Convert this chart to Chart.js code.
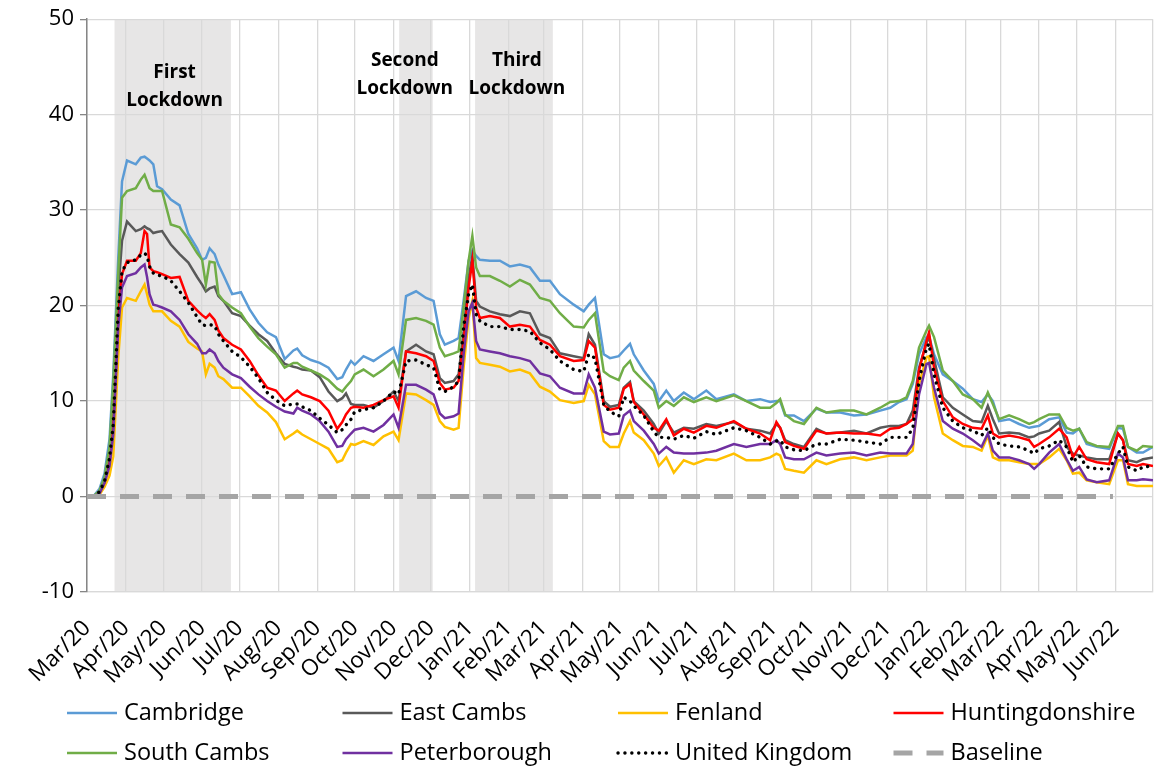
<!DOCTYPE html>
<html>
<head>
<meta charset="utf-8">
<script src="https://cdn.jsdelivr.net/npm/chart.js@4.4.1/dist/chart.umd.min.js"></script>
<style>
  html, body { margin: 0; padding: 0; background: #fff; }
  #chart { display: block; }
</style>
</head>
<body>
<canvas id="chart" width="1171" height="767"></canvas>
<script>
// days since 1 Mar 2020
const days = [
  5, 10, 14, 18, 21, 25, 28, 32, 39, 43, 46, 48, 50, 53, 56, 60, 67, 74, 81, 88, 92, 95, 98, 102, 105, 109,
  116, 123, 130, 137, 144, 151, 158, 165, 168, 172, 179, 186, 193, 200, 204, 207, 211,
  214, 221, 229, 237, 245, 249, 255, 263, 271, 277, 282, 286, 293, 297, 301, 305, 308, 311, 314, 322, 330,
  338, 346, 354, 362, 370, 378, 389, 397, 401, 406, 413, 418, 425,
  429, 434, 437, 445, 453, 457, 463, 469, 477, 485, 495, 503, 517, 527, 538, 546, 551, 554, 558, 565, 573,
  583, 591, 602, 613, 623, 634, 642,
  649, 655, 660, 665, 671, 673, 677, 684, 692, 700, 708, 715, 720, 724, 729, 737, 745, 753, 757, 761, 769,
  777, 783, 788, 793, 799, 807, 817, 824, 828, 832, 839, 844, 852
];

const cambridge = [
  0, 0.8, 2.4, 6, 12.8, 25, 33, 35.2, 34.8, 35.5, 35.6, 35.4, 35.2, 34.8, 32.5, 32.2, 31.1, 30.5, 27.5, 26, 24.8, 25, 26, 25.4, 24.3, 23.2,
  21.2, 21.4, 19.6, 18.2, 17.2, 16.7, 14.4, 15.3, 15.5, 14.8, 14.3, 14, 13.5, 12.3, 12.5, 13.3, 14.2,
  13.8, 14.7, 14.2, 14.9, 15.6, 14.2, 21, 21.5, 20.8, 20.5, 17, 15.9, 16.3, 16.6, 20.5, 24.7, 25.8, 25.2, 24.8, 24.7, 24.7,
  24.1, 24.3, 24, 22.6, 22.6, 21.2, 20.1, 19.4, 20.1, 20.8, 14.9, 14.5, 14.7,
  15.3, 16, 14.9, 13.2, 11.8, 10, 11.1, 10, 10.9, 10.2, 11.1, 10.2, 10.7, 10, 10.2, 9.9, 10, 10, 8.5, 8.5, 7.9,
  9.2, 8.8, 8.8, 8.5, 8.6, 9, 9.3,
  9.9, 10.2, 11.8, 14.9, 16.7, 16.8, 14.9, 12.8, 12.1, 11.3, 10.2, 9.9, 10.7, 10, 7.9, 8.1, 7.6, 7.2, 7.3, 7.4, 8.1,
  8.3, 6.7, 6.6, 7.1, 5.5, 5.2, 5, 7.2, 7.1, 5.2, 4.6, 4.6, 5.2
];

const eastCambs = [
  0, 0.5, 1.8, 4.5, 10, 21.5, 26.8, 28.8, 27.8, 28, 28.3, 28.1, 28, 27.6, 27.7, 27.8, 26.4, 25.4, 24.5, 23, 22.2, 21.5, 21.8, 22, 21, 20.5,
  19.2, 18.9, 17.9, 17, 16.3, 15, 13.9, 13.6, 13.5, 13.3, 13.2, 12.5, 11, 10, 10.3, 10.8, 9.7,
  9.6, 9.6, 9.3, 10, 11, 10, 15.2, 15.9, 15.2, 14.9, 12.4, 11.9, 12.1, 12.8, 17.3, 22.9, 25.2, 20.5, 19.9, 19.4, 19.1,
  18.9, 19.4, 19.2, 17, 16.6, 15, 14.7, 14.5, 17, 15.9, 10, 9.4, 9.6,
  11.4, 12, 10, 9, 7.6, 6.6, 7.9, 6.7, 7.2, 7.1, 7.6, 7.4, 7.8, 7.1, 6.9, 6.6, 7.6, 7.2, 5.9, 5.5, 5.2,
  7.1, 6.6, 6.7, 6.9, 6.6, 7.2, 7.4,
  7.4, 7.6, 9, 13.5, 16.1, 16.7, 14.4, 10.4, 9.3, 8.6, 7.9, 7.8, 9.5, 8.1, 6.6, 6.7, 6.6, 6.2, 6.3, 6.6, 6.9,
  7.8, 5.2, 4.5, 4.3, 4.1, 3.9, 3.9, 6.6, 5.9, 3.8, 3.6, 3.9, 4.1
];

const fenland = [
  0, 0.2, 1, 2.2, 4.2, 14.6, 19.8, 20.8, 20.5, 21.5, 22.2, 21.2, 20.1, 19.4, 19.4, 19.4, 18.4, 17.8, 16.2, 15.5, 15.2, 12.8, 13.9, 13.5, 12.6, 12.3,
  11.4, 11.4, 10.5, 9.5, 8.8, 7.8, 6, 6.6, 6.9, 6.5, 6, 5.5, 5, 3.6, 3.8, 4.6, 5.5,
  5.4, 5.8, 5.4, 6.3, 6.8, 5.9, 10.8, 10.7, 10.1, 9.6, 7.9, 7.3, 7, 7.2, 13.5, 18.7, 20.5, 14.5, 14, 13.8, 13.6,
  13.1, 13.3, 12.9, 11.5, 11, 10.1, 9.8, 10, 11.7, 10.7, 5.8, 5.2, 5.2,
  6.6, 7.9, 6.7, 5.9, 4.5, 3.2, 4.1, 2.5, 3.8, 3.4, 3.9, 3.8, 4.5, 3.8, 3.8, 4.1, 4.5, 4.3, 2.9, 2.7, 2.5,
  3.8, 3.4, 3.9, 4.1, 3.8, 4.1, 4.3,
  4.3, 4.3, 4.8, 11.8, 14.6, 14.7, 10.4, 6.6, 5.9, 5.3, 5.2, 4.8, 6.4, 4.1, 3.8, 3.8, 3.6, 3.4, 3.4, 3.4, 4.1,
  5, 3.8, 2.4, 2.5, 1.7, 1.5, 1.3, 3.8, 3.8, 1.3, 1.1, 1.1, 1.1
];

const huntingdonshire = [
  0, 0.4, 1.5, 3.5, 7.5, 19, 23.3, 24.7, 24.7, 25.5, 27.8, 27.5, 24, 23.6, 23.5, 23.3, 22.9, 23, 20.5, 19.5, 19, 18.7, 19.1, 18.5, 17.4, 16.6,
  15.9, 15.4, 14.2, 12.7, 11.4, 11.1, 10, 10.8, 11.1, 10.7, 10.4, 10, 9, 7.1, 7.8, 8.6, 9.3,
  9.4, 9.3, 9.6, 10.1, 10.5, 9.3, 15.2, 15, 14.7, 14.2, 11.9, 11.2, 11.4, 12.1, 16.3, 21.9, 24.7, 19.8, 18.7, 18.9, 18.7,
  17.8, 18, 17.8, 16.4, 15.9, 14.7, 14.2, 14.3, 16.3, 15.6, 9.6, 9.1, 9.3,
  11.3, 11.8, 9.9, 8.6, 7.2, 6.9, 8.1, 6.4, 7.1, 6.7, 7.4, 7.2, 7.9, 7.1, 6.6, 5.9, 7.8, 7.2, 5.7, 5.3, 5,
  6.9, 6.6, 6.7, 6.6, 6.6, 6.4, 7.1,
  7.2, 7.6, 8.1, 13.2, 16.3, 17.2, 13.5, 10, 8.3, 7.6, 7.2, 7.1, 8.5, 6.6, 6.2, 6.4, 6.2, 5.9, 5.2, 5.5, 6.2,
  7.1, 6.2, 4.1, 5.2, 3.9, 3.6, 3.4, 6.6, 5.9, 3.4, 3.2, 3.4, 3.2
];

const southCambs = [
  0, 0.6, 2, 5.2, 12, 23.5, 31.3, 32, 32.3, 33.2, 33.7, 33, 32.3, 32, 32, 32, 28.5, 28.2, 27, 25.5, 24.8, 22.2, 24.6, 24.5, 21.2, 20.5,
  19.8, 19.2, 17.8, 16.6, 15.7, 14.9, 13.5, 14, 14, 13.6, 13.2, 12.8, 12.2, 11.3, 11, 11.5, 12.1,
  12.8, 13.3, 12.6, 13.3, 14.2, 12.8, 18.5, 18.7, 18.4, 18, 15.6, 14.7, 15, 15.2, 19.8, 24.7, 27.3, 24, 23.1, 23.1, 22.6,
  22, 22.7, 22.2, 20.8, 20.5, 19.2, 17.8, 17.7, 18.5, 19.2, 13.1, 12.6, 12.2,
  13.5, 14.2, 13.2, 12.1, 11.1, 9.3, 10, 9.5, 10.4, 9.9, 10.4, 10, 10.6, 10, 9.3, 9.3, 9.8, 10.2, 8.6, 7.9, 7.6,
  9.3, 8.8, 9, 9, 8.6, 9.3, 9.9,
  10, 10.4, 12.1, 15.6, 17.4, 17.9, 16.7, 13.2, 12.1, 10.7, 10.2, 9.3, 10.9, 9.7, 8.1, 8.5, 8.1, 7.6, 7.8, 8.1, 8.6,
  8.6, 7.2, 6.9, 7.1, 5.7, 5.3, 5.2, 7.4, 7.4, 5.2, 4.8, 5.3, 5.2
];

const peterborough = [
  0, 0.3, 1.4, 3.2, 6.5, 17.7, 21.9, 23.1, 23.4, 24, 24.3, 23, 21.2, 20.1, 20, 19.8, 19.4, 18.5, 17, 16, 15, 15, 15.4, 15, 14.2, 13.5,
  12.8, 12.4, 11.5, 10.7, 10, 9.4, 8.9, 8.7, 9.3, 9, 8.6, 7.9, 6.8, 5.2, 5.3, 6, 6.6,
  7, 7.2, 6.8, 7.5, 8.6, 7.2, 11.7, 11.7, 11.2, 10.7, 8.7, 8.2, 8.4, 8.7, 14.9, 19.4, 20.3, 16.3, 15.4, 15.2, 15,
  14.7, 14.5, 14.2, 12.9, 12.6, 11.4, 10.8, 10.8, 12.8, 11.4, 6.8, 6.5, 6.6,
  8.5, 9, 7.9, 6.9, 5.5, 4.5, 5.2, 4.6, 4.5, 4.5, 4.6, 4.8, 5.5, 5.2, 5.5, 5.5, 5.9, 5.5, 4.1, 3.9, 3.9,
  4.6, 4.3, 4.5, 4.6, 4.3, 4.6, 4.5,
  4.5, 4.5, 5.5, 10.7, 13.9, 14, 11.4, 7.9, 7.1, 6.6, 5.9, 5.2, 6.6, 4.8, 4.1, 4.1, 3.8, 3.4, 2.9, 3.4, 4.6,
  5.5, 3.9, 2.7, 3.1, 1.8, 1.5, 1.7, 4.5, 4.1, 1.7, 1.7, 1.8, 1.7
];

const unitedKingdom = [
  0, 0.5, 1.6, 4, 7.6, 19.8, 23.6, 24.5, 24.8, 25.3, 25.5, 25.2, 24.1, 23.4, 23.2, 23.1, 22.6, 21.5, 20.3, 18.8, 18, 17.9, 18, 17.9, 17, 16.3,
  15.2, 14.6, 13.6, 12.4, 10.9, 10.1, 9.5, 9.7, 9.7, 9.4, 9, 8.2, 7.5, 6.7, 7, 7.5, 8.1,
  8.9, 9.1, 9.3, 10, 11, 10.7, 14.2, 14.3, 13.8, 13.5, 11.2, 11, 11.5, 12.1, 17.7, 21.2, 22.2, 19.1, 18.4, 17.8, 17.8,
  17.5, 17.5, 17.3, 16.1, 15.4, 14.2, 13.3, 13.1, 14.9, 14.5, 9.6, 8.9, 8.4,
  10.4, 10, 9.5, 8.5, 6.8, 6.2, 6.2, 6, 6.4, 6.1, 6.8, 6.5, 7.2, 6.9, 6.2, 5.5, 5.8, 5.9, 5.2, 4.9, 4.8,
  5.5, 5.5, 6, 5.9, 5.7, 5.5, 6.2,
  6.2, 6.2, 7.1, 12.1, 15.6, 16, 12.8, 9.3, 7.9, 7.2, 6.9, 6.4, 7.2, 6.2, 5.5, 5.3, 5.2, 4.8, 4.5, 5, 5.3,
  5.9, 5.2, 3.6, 4.3, 3.1, 2.9, 2.9, 4.5, 5.2, 3.1, 2.7, 3.1, 3.2
];

const baselineDays = [0, 820];
const baselineValues = [0, 0];

const monthLabels = [
  "Mar/20", "Apr/20", "May/20", "Jun/20", "Jul/20", "Aug/20", "Sep/20", "Oct/20", "Nov/20", "Dec/20",
  "Jan/21", "Feb/21", "Mar/21", "Apr/21", "May/21", "Jun/21", "Jul/21", "Aug/21", "Sep/21", "Oct/21",
  "Nov/21", "Dec/21", "Jan/22", "Feb/22", "Mar/22", "Apr/22", "May/22", "Jun/22"
];

const lockdowns = [
  { label: ["First", "Lockdown"], start: 22, end: 115, textDay: 70, textValue: [44.4, 41.5] },
  { label: ["Second", "Lockdown"], start: 249.5, end: 276.3, textDay: 254, textValue: [45.7, 42.7] },
  { label: ["Third", "Lockdown"], start: 310.2, end: 372.3, textDay: 343.6, textValue: [45.7, 42.7] }
];

const FONT = "'Open Sans', sans-serif";
const DAY_MS = 86400000;
const start = Date.UTC(2020, 2, 1);
const monthDays = monthLabels.map((_, i) => Math.round((Date.UTC(2020, 2 + i, 1) - start) / DAY_MS));
const xMax = Math.round((Date.UTC(2022, 6, 1) - start) / DAY_MS);

function toPoints(values) {
  return values.map((v, i) => ({ x: days[i], y: v }));
}

const seriesDefs = [
  { label: "Cambridge", data: cambridge, color: "#5B9BD5" },
  { label: "East Cambs", data: eastCambs, color: "#595959" },
  { label: "Fenland", data: fenland, color: "#FFC000" },
  { label: "Huntingdonshire", data: huntingdonshire, color: "#FF0000" },
  { label: "South Cambs", data: southCambs, color: "#70AD47" },
  { label: "Peterborough", data: peterborough, color: "#7030A0" }
];

const datasets = seriesDefs.map((s, i) => ({
  label: s.label,
  data: toPoints(s.data),
  borderColor: s.color,
  backgroundColor: s.color,
  borderWidth: 2.5,
  pointRadius: 0,
  tension: 0,
  order: 10 - i
}));

datasets.push({
  label: "United Kingdom",
  data: toPoints(unitedKingdom),
  borderColor: "#000000",
  backgroundColor: "#000000",
  borderWidth: 3.4,
  borderDash: [0.1, 6.8],
  borderCapStyle: "round",
  pointRadius: 0,
  tension: 0,
  order: 2
});

datasets.push({
  label: "Baseline",
  data: baselineDays.map((d, i) => ({ x: d, y: baselineValues[i] })),
  borderColor: "#A5A5A5",
  backgroundColor: "#A5A5A5",
  borderWidth: 5,
  borderDash: [19, 14],
  pointRadius: 0,
  tension: 0,
  order: 1
});

const shadingPlugin = {
  id: "lockdownShading",
  beforeDraw(chart) {
    const { ctx, chartArea, scales } = chart;
    ctx.save();
    ctx.fillStyle = "#E7E6E6";
    lockdowns.forEach((l) => {
      const x1 = scales.x.getPixelForValue(l.start);
      const x2 = scales.x.getPixelForValue(l.end);
      ctx.fillRect(x1, chartArea.top, x2 - x1, chartArea.bottom - chartArea.top);
    });
    ctx.restore();
  },
  afterDraw(chart) {
    const { ctx, scales } = chart;
    ctx.save();
    ctx.fillStyle = "#000";
    ctx.font = `bold 19px ${FONT}`;
    ctx.textAlign = "center";
    ctx.textBaseline = "middle";
    lockdowns.forEach((l) => {
      const x = scales.x.getPixelForValue(l.textDay);
      l.label.forEach((line, j) => {
        ctx.fillText(line, x, scales.y.getPixelForValue(l.textValue[j]));
      });
    });
    ctx.restore();
  }
};

const legendPlugin = {
  id: "gridLegend",
  afterDraw(chart) {
    const { ctx } = chart;
    const cols = [67, 342.5, 618, 893.5];
    const rows = [713, 753];
    ctx.save();
    ctx.font = `23.5px ${FONT}`;
    ctx.textBaseline = "middle";
    ctx.textAlign = "left";
    chart.data.datasets.forEach((ds, i) => {
      const x = cols[i % 4];
      const y = rows[Math.floor(i / 4)];
      ctx.beginPath();
      ctx.strokeStyle = ds.borderColor;
      ctx.lineWidth = ds.label === "Baseline" ? 5 : ds.borderWidth;
      ctx.lineCap = ds.borderCapStyle || "butt";
      ctx.setLineDash(ds.borderDash || []);
      ctx.moveTo(x, y);
      ctx.lineTo(x + 50, y);
      ctx.stroke();
      ctx.setLineDash([]);
      ctx.fillStyle = "#000";
      ctx.fillText(ds.label, x + 57, y);
    });
    ctx.restore();
  }
};

new Chart(document.getElementById("chart"), {
  type: "line",
  data: { datasets },
  options: {
    responsive: false,
    animation: false,
    devicePixelRatio: 1,
    layout: { padding: { top: 17, right: 18, bottom: 77, left: 0 } },
    plugins: {
      legend: { display: false },
      tooltip: { enabled: false }
    },
    scales: {
      x: {
        type: "linear",
        min: 0,
        max: xMax,
        afterBuildTicks(scale) {
          scale.ticks = monthDays.concat([xMax]).map((v) => ({ value: v }));
        },
        afterFit(scale) {
          scale.height = 98;
          scale.paddingLeft = 0;
          scale.paddingRight = 0;
        },
        grid: { color: "#D9D9D9", lineWidth: 1.3, drawTicks: false },
        border: { color: "#D9D9D9", width: 1.3 },
        ticks: {
          autoSkip: false,
          minRotation: 45,
          maxRotation: 45,
          padding: 23,
          color: "#000",
          font: { family: FONT, size: 22.5 },
          callback(value) {
            const idx = monthDays.indexOf(value);
            return idx >= 0 ? monthLabels[idx] : "";
          }
        }
      },
      y: {
        min: -10,
        max: 50,
        afterFit(scale) {
          scale.width = 87;
        },
        grid: { color: "#D9D9D9", lineWidth: 1.3, tickColor: "#868686", tickLength: 7 },
        border: { color: "#868686", width: 1.5 },
        ticks: {
          stepSize: 10,
          padding: 6,
          color: "#000",
          font: { family: FONT, size: 22 }
        }
      }
    }
  },
  plugins: [shadingPlugin, legendPlugin]
});
</script>
</body>
</html>
